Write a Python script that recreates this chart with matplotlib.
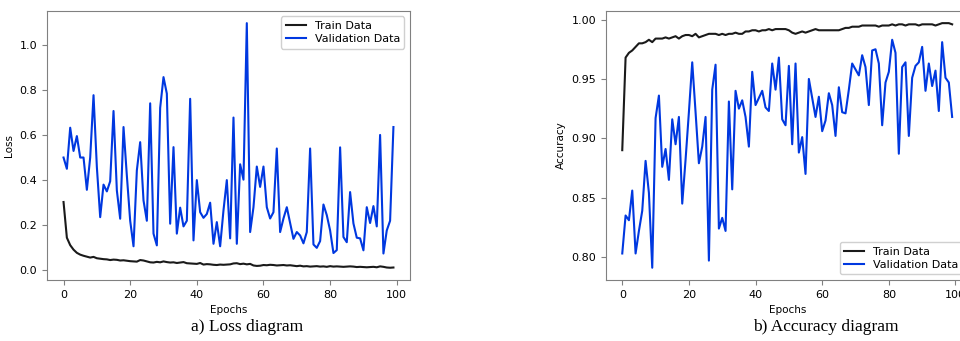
import numpy as np
import matplotlib.pyplot as plt

# ----------------------------
# Data (100 epochs)
# ----------------------------
epochs = np.arange(100)

train_loss = [
    0.303, 0.145, 0.112, 0.092, 0.078, 0.070, 0.065, 0.061, 0.057, 0.060,
    0.054, 0.052, 0.050, 0.049, 0.046, 0.048, 0.047, 0.044, 0.045, 0.043,
    0.041, 0.040, 0.039, 0.046, 0.044, 0.040, 0.036, 0.035, 0.038, 0.036,
    0.040, 0.037, 0.035, 0.036, 0.033, 0.035, 0.037, 0.032, 0.031, 0.030,
    0.029, 0.033, 0.026, 0.028, 0.027, 0.025, 0.024, 0.026, 0.025, 0.026,
    0.027, 0.031, 0.032, 0.028, 0.030, 0.027, 0.029, 0.022, 0.020, 0.021,
    0.024, 0.023, 0.025, 0.024, 0.022, 0.023, 0.024, 0.022, 0.023, 0.021,
    0.019, 0.021, 0.018, 0.019, 0.017, 0.018, 0.019, 0.017, 0.018, 0.016,
    0.019, 0.017, 0.018, 0.017, 0.016, 0.017, 0.018, 0.017, 0.015, 0.016,
    0.015, 0.014, 0.015, 0.016, 0.014, 0.018, 0.016, 0.013, 0.012, 0.013,
]

val_loss = [
    0.500, 0.450, 0.632, 0.529, 0.595, 0.500, 0.500, 0.357, 0.500, 0.776,
    0.458, 0.236, 0.380, 0.350, 0.395, 0.706, 0.354, 0.229, 0.635, 0.420,
    0.220, 0.107, 0.443, 0.568, 0.310, 0.220, 0.740, 0.163, 0.111, 0.720,
    0.856, 0.783, 0.207, 0.546, 0.163, 0.278, 0.195, 0.220, 0.760, 0.133,
    0.400, 0.258, 0.233, 0.250, 0.300, 0.118, 0.214, 0.107, 0.266, 0.400,
    0.142, 0.677, 0.118, 0.470, 0.402, 1.095, 0.170, 0.280, 0.460, 0.370,
    0.460, 0.280, 0.230, 0.258, 0.540, 0.170, 0.230, 0.280, 0.210, 0.140,
    0.170, 0.155, 0.120, 0.170, 0.540, 0.115, 0.100, 0.130, 0.292, 0.245,
    0.177, 0.077, 0.090, 0.545, 0.148, 0.125, 0.347, 0.208, 0.145, 0.142,
    0.089, 0.280, 0.210, 0.285, 0.195, 0.600, 0.075, 0.177, 0.220, 0.635,
]

train_acc = [
    0.890, 0.968, 0.972, 0.974, 0.977, 0.980, 0.980, 0.981, 0.983, 0.981,
    0.984, 0.984, 0.984, 0.985, 0.984, 0.985, 0.986, 0.984, 0.986, 0.987,
    0.987, 0.986, 0.988, 0.985, 0.986, 0.987, 0.988, 0.988, 0.988, 0.987,
    0.988, 0.987, 0.988, 0.988, 0.989, 0.988, 0.988, 0.990, 0.990, 0.991,
    0.991, 0.990, 0.991, 0.991, 0.992, 0.991, 0.992, 0.992, 0.992, 0.992,
    0.991, 0.989, 0.988, 0.989, 0.990, 0.989, 0.990, 0.991, 0.992, 0.991,
    0.991, 0.991, 0.991, 0.991, 0.991, 0.991, 0.992, 0.993, 0.993, 0.994,
    0.994, 0.994, 0.995, 0.995, 0.995, 0.995, 0.995, 0.994, 0.995, 0.995,
    0.995, 0.996, 0.995, 0.996, 0.996, 0.995, 0.996, 0.996, 0.996, 0.995,
    0.996, 0.996, 0.996, 0.996, 0.995, 0.996, 0.997, 0.997, 0.997, 0.996,
]

val_acc = [
    0.803, 0.835, 0.831, 0.856, 0.803, 0.822, 0.839, 0.881, 0.854, 0.791,
    0.917, 0.936, 0.876, 0.891, 0.865, 0.916, 0.895, 0.918, 0.845, 0.882,
    0.922, 0.964, 0.922, 0.879, 0.893, 0.918, 0.797, 0.941, 0.962, 0.824,
    0.833, 0.822, 0.931, 0.857, 0.940, 0.925, 0.932, 0.918, 0.893, 0.956,
    0.928, 0.934, 0.940, 0.926, 0.923, 0.963, 0.941, 0.968, 0.916, 0.911,
    0.961, 0.895, 0.963, 0.888, 0.901, 0.870, 0.950, 0.934, 0.918, 0.935,
    0.906, 0.915, 0.938, 0.928, 0.902, 0.943, 0.922, 0.921, 0.941, 0.963,
    0.958, 0.953, 0.970, 0.960, 0.928, 0.974, 0.975, 0.963, 0.911, 0.947,
    0.956, 0.983, 0.972, 0.887, 0.960, 0.964, 0.902, 0.951, 0.961, 0.964,
    0.977, 0.940, 0.963, 0.944, 0.957, 0.923, 0.981, 0.951, 0.947, 0.918,
]

labels = ["Train Data", "Validation Data"]
captions = ["a) Loss diagram", "b) Accuracy diagram"]

TRAIN_COLOR = "#1a1a1a"
VAL_COLOR = "#0038e0"

plt.rcParams["font.family"] = "DejaVu Sans"
plt.rcParams["font.size"] = 8

fig = plt.figure(figsize=(9.6, 3.41), dpi=100)

# right panel runs past the image edge, as in the cropped reference
ax1 = fig.add_axes([0.049, 0.179, 0.378, 0.789])
ax2 = fig.add_axes([0.631, 0.179, 0.378, 0.789])


def style(ax, ylabel, loc):
    for sp in ax.spines.values():
        sp.set_color("#808080")
    ax.tick_params(labelsize=8, color="#808080")
    ax.set_xlabel("Epochs", fontsize=7.5)
    ax.set_ylabel(ylabel, fontsize=7.5)
    ax.legend(loc=loc, fontsize=8, handlelength=1.8, borderpad=0.4,
              labelspacing=0.3, framealpha=1.0, edgecolor="#d0d0d0")


ax1.plot(epochs, train_loss, color=TRAIN_COLOR, lw=1.5, label=labels[0])
ax1.plot(epochs, val_loss, color=VAL_COLOR, lw=1.5, label=labels[1])
ax1.set_yticks([0.0, 0.2, 0.4, 0.6, 0.8, 1.0])
style(ax1, "Loss", "upper right")

ax2.plot(epochs, train_acc, color=TRAIN_COLOR, lw=1.5, label=labels[0])
ax2.plot(epochs, val_acc, color=VAL_COLOR, lw=1.5, label=labels[1])
ax2.set_yticks([0.80, 0.85, 0.90, 0.95, 1.00])
style(ax2, "Accuracy", "lower right")

fig.text(247 / 960, 1 - 327 / 341, captions[0], ha="center", va="center",
         fontsize=12.5, family="Liberation Serif")
fig.text(826 / 960, 1 - 327 / 341, captions[1], ha="center", va="center",
         fontsize=12.5, family="Liberation Serif")

fig.savefig("out.png", dpi=100)
